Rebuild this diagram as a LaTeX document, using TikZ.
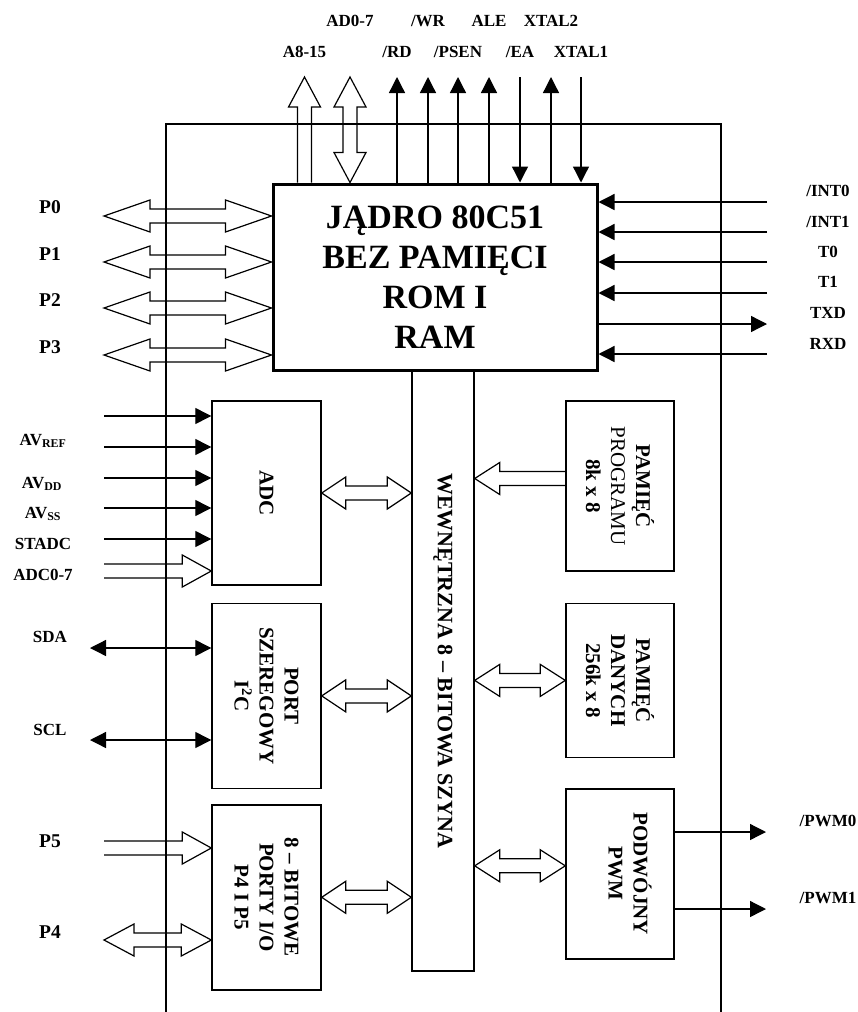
\documentclass[tikz,border=0pt]{standalone}
\usepackage{fontspec}
\setmainfont{Liberation Serif}
\usepackage{tikz}
\usetikzlibrary{arrows.meta,positioning,calc}

\tikzset{
  chipframe/.style={line width=1.3pt},
  blk/.style={draw, line width=1.4pt, minimum width=109pt, inner sep=0pt},
  corebox/.style={draw, line width=3pt, minimum width=324pt, minimum height=186pt, align=center, font=\fontsize{34}{40}\selectfont\bfseries},
  vtext/.style={rotate=-90, align=center, font=\fontsize{21}{25}\selectfont\bfseries},
  lbl/.style={anchor=base, inner sep=0pt, font=\fontsize{17}{20}\selectfont\bfseries},
  plbl/.style={lbl, font=\fontsize{19.5}{22}\selectfont\bfseries},
  sig/.style={line width=1.3pt, -{Triangle[length=16pt,width=16pt]}},
  sigio/.style={line width=1.3pt, {Triangle[length=16pt,width=16pt]}-{Triangle[length=16pt,width=16pt]}},
  busline/.style={line width=1.2pt},
}

% hollow bus arrows: #1 head length, #2 tail / first end, #3 tip / second end
\newcommand{\busone}[3][25pt]{%
  \path ($(#3)!#1!(#2)$) coordinate (hb);
  \draw[busline] ($(#2)!7pt!90:(#3)$) -- ($(hb)!7pt!90:(#3)$) -- ($(hb)!16pt!90:(#3)$) -- (#3)
    -- ($(hb)!16pt!-90:(#3)$) -- ($(hb)!7pt!-90:(#3)$) -- ($(#2)!7pt!-90:(#3)$);
}
\newcommand{\bustwo}[3][25pt]{%
  \path ($(#2)!#1!(#3)$) coordinate (ha) ($(#3)!#1!(#2)$) coordinate (hb);
  \draw[busline] (#2) -- ($(ha)!16pt!90:(#3)$) -- ($(ha)!7pt!90:(#3)$) -- ($(hb)!7pt!-90:(#2)$)
    -- ($(hb)!16pt!-90:(#2)$) -- (#3) -- ($(hb)!16pt!90:(#2)$) -- ($(hb)!7pt!90:(#2)$)
    -- ($(ha)!7pt!-90:(#3)$) -- ($(ha)!16pt!-90:(#3)$) -- cycle;
}

\begin{document}
\begin{tikzpicture}[x=1pt, y=-1pt]
  \useasboundingbox (0,0) rectangle (858,1012);
  \draw[chipframe] (166,1012) |- (721,124) -- (721,1012);

  \node[corebox] (core) at (435,277) {JĄDRO 80C51\\BEZ PAMIĘCI\\ROM I\\RAM};
  \node[blk, minimum width=62pt, minimum height=601pt] (bus) at (443,670.5) {};
  \node[blk, minimum height=184pt] (adc) at (266.5,493) {};
  \node[blk, minimum height=185pt, below=17pt of adc] (i2c) {};
  \node[blk, minimum height=185pt, below=15pt of i2c] (ports) {};
  \node[blk, minimum width=108pt, minimum height=170pt] (prog) at (620,486) {};
  \node[blk, minimum width=108pt, minimum height=154pt, below=31pt of prog] (dmem) {};
  \node[blk, minimum width=108pt, minimum height=170pt, below=30pt of dmem] (pwm) {};

  \node[vtext] (adct) at (adc) {ADC};
  \node[vtext] (i2ct) at (i2c) {PORT\\SZEREGOWY\\I\textsuperscript{2}C};
  \node[vtext] (portst) at (ports) {8 – BITOWE\\PORTY I/O\\P4 I P5};
  \node[vtext] (progt) at (prog) {PAMIĘĆ\\{\mdseries PROGRAMU}\\8k x 8};
  \node[vtext] (dmemt) at (dmem) {PAMIĘĆ\\DANYCH\\256k x 8};
  \node[vtext] (pwmt) at ($(pwm)+(10,0)$) {PODWÓJNY\\PWM};
  \node[vtext, font=\fontsize{22}{26}\selectfont\bfseries] (bust) at ($(bus)+(0,-10)$) {WEWNĘTRZNA 8 – BITOWA SZYNA};

  \foreach \nm/\x in {a8/304.5, ad/350, rd/397, wr/428, psen/458, ale/489, ea/520, xt2/551, xt1/581}
    \coordinate (t\nm) at (\x,77);
  \busone[30pt]{core.north -| ta8}{ta8}
  \bustwo[30pt]{tad}{core.north -| tad}
  \foreach \nm in {rd,wr,psen,ale,xt2}
    \draw[sig] (core.north -| t\nm) -- (t\nm);
  \foreach \nm in {ea,xt1}
    \draw[sig] (t\nm) -- (core.north -| t\nm);
  \foreach \nm/\txt/\y in {a8/A8-15/57, ad/AD0-7/26, rd/{/RD}/57, wr/{/WR}/26, psen/{/PSEN}/57,
      ale/ALE/26, ea/{/EA}/57, xt2/XTAL2/26, xt1/XTAL1/57}
    \node[lbl] (l\nm) at (t\nm |- 0,\y) {\txt};

  \foreach \i/\y/\ly in {0/216/213, 1/262/260, 2/308/306, 3/355/353} {
    \coordinate (pin\i) at (104,\y);
    \bustwo[46pt]{pin\i}{core.west |- pin\i}
    \node[plbl] (lp\i) at (50,\ly) {P\i};
  }

  \foreach \nm/\y in {int0/202, int1/232, t0/262, t1/293, rxd/354} {
    \coordinate (r\nm) at (767,\y);
    \draw[sig] (r\nm) -- (core.east |- r\nm);
  }
  \coordinate (rtxd) at (767,324);
  \draw[sig] (core.east |- rtxd) -- (rtxd);
  \foreach \nm/\txt/\y in {int0/{/INT0}/196, int1/{/INT1}/227, t0/T0/257, t1/T1/287, txd/TXD/318, rxd/RXD/349}
    \node[lbl] (l\nm) at (828,\y) {\txt};

  \foreach \y in {416,447,478,508,539} {
    \coordinate (ain\y) at (104,\y);
    \draw[sig] (ain\y) -- (adc.west |- ain\y);
  }
  \coordinate (adcin) at (104,571);
  \busone[29pt]{adcin}{adc.west |- adcin}
  \node[lbl] (lavref) at (43,445) {AV\textsubscript{REF}};
  \node[lbl] (lavdd) at (42,488) {AV\textsubscript{DD}};
  \node[lbl] (lavss) at (43,518) {AV\textsubscript{SS}};
  \node[lbl] (lstadc) at (43,549) {STADC};
  \node[lbl] (ladc) at (43,580) {ADC0-7};

  \coordinate (sda) at (90,648);
  \coordinate (scl) at (90,740);
  \draw[sigio] (sda) -- (i2c.west |- sda);
  \draw[sigio] (scl) -- (i2c.west |- scl);
  \node[lbl] (lsda) at (50,642) {SDA};
  \node[lbl] (lscl) at (50,735) {SCL};

  \coordinate (p5in) at (104,848);
  \coordinate (p4in) at (104,940);
  \busone[29pt]{p5in}{ports.west |- p5in}
  \bustwo[30pt]{p4in}{ports.west |- p4in}
  \node[plbl] (lp5) at (50,847) {P5};
  \node[plbl] (lp4) at (50,938) {P4};

  \bustwo[24pt]{adc.east}{bus.west |- adc.east}
  \bustwo[24pt]{i2c.east}{bus.west |- i2c.east}
  \bustwo[24pt]{ports.east}{bus.west |- ports.east}
  \coordinate (progout) at ($(prog.west)+(0,-7.5)$);
  \busone[25pt]{progout}{bus.east |- progout}
  \bustwo[25pt]{bus.east |- dmem.west}{dmem.west}
  \coordinate (pwmin) at ($(pwm.west)+(0,-8)$);
  \bustwo[25pt]{bus.east |- pwmin}{pwmin}

  \coordinate (pwm0) at (766,832);
  \coordinate (pwm1) at (766,909);
  \draw[sig] (pwm.east |- pwm0) -- (pwm0);
  \draw[sig] (pwm.east |- pwm1) -- (pwm1);
  \node[lbl] (lpwm0) at (828,826) {/PWM0};
  \node[lbl] (lpwm1) at (828,903) {/PWM1};
\end{tikzpicture}
\end{document}
